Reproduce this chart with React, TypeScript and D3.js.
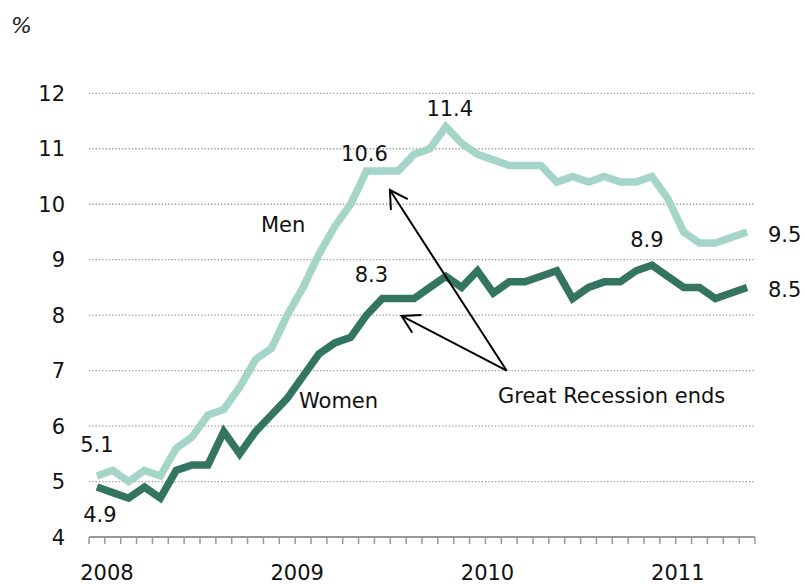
import React, { useEffect } from "react";
import * as d3 from "d3";

const months: string[] = [];
for (let y = 2008; y <= 2011; y++) {
  for (let m = 1; m <= 12; m++) {
    if (y === 2011 && m > 6) break;
    months.push(`${y}-${String(m).padStart(2, "0")}`);
  }
}

const menValues = [
  5.1, 5.2, 5.0, 5.2, 5.1, 5.6, 5.8, 6.2, 6.3, 6.7, 7.2, 7.4,
  8.0, 8.5, 9.1, 9.6, 10.0, 10.6, 10.6, 10.6, 10.9, 11.0, 11.4, 11.1,
  10.9, 10.8, 10.7, 10.7, 10.7, 10.4, 10.5, 10.4, 10.5, 10.4, 10.4, 10.5,
  10.1, 9.5, 9.3, 9.3, 9.4, 9.5,
];

const womenValues = [
  4.9, 4.8, 4.7, 4.9, 4.7, 5.2, 5.3, 5.3, 5.9, 5.5, 5.9, 6.2,
  6.5, 6.9, 7.3, 7.5, 7.6, 8.0, 8.3, 8.3, 8.3, 8.5, 8.7, 8.5,
  8.8, 8.4, 8.6, 8.6, 8.7, 8.8, 8.3, 8.5, 8.6, 8.6, 8.8, 8.9,
  8.7, 8.5, 8.5, 8.3, 8.4, 8.5,
];

const yTicks = [4, 5, 6, 7, 8, 9, 10, 11, 12];
const yearLabels = ["2008", "2009", "2010", "2011"];

const W = 805;
const H = 584;
const FONT = "Verdana, 'DejaVu Sans', sans-serif";
const MEN_COLOR = "#a4d5c8";
const WOMEN_COLOR = "#347562";

export default function App() {
  useEffect(() => {
    document.body.style.margin = "0";
    document.body.style.overflow = "hidden";
  }, []);

  const x = d3.scaleBand<string>().domain(months).range([89, 755]).padding(0);
  const y = d3.scaleLinear().domain([4, 12]).range([537, 93.3]);
  const cx = (i: number) => (x(months[i]) as number) + x.bandwidth() / 2;

  const line = d3
    .line<number>()
    .x((_, i) => cx(i))
    .y((d) => y(d));

  const tickXs = months.map((m) => x(m) as number).concat([755]);

  const lastI = months.length - 1;
  const men = (i: number) => menValues[i];
  const women = (i: number) => womenValues[i];
  const mPeak = menValues.indexOf(d3.max(menValues) as number);
  const wPeak = womenValues.lastIndexOf(d3.max(womenValues) as number);
  const m106 = menValues.indexOf(10.6);
  const w83 = womenValues.indexOf(8.3);

  const fs = 21;

  // arrows
  const tail: [number, number] = [506.7, 370.7];
  const tips: [number, number][] = [
    [cx(m106) + 23.4, y(men(m106)) + 19.1],
    [cx(w83) + 19.2, y(8.0) + 0.8],
  ];
  const head = (tip: [number, number]) => {
    const ang = Math.atan2(tail[1] - tip[1], tail[0] - tip[0]);
    const L = 20;
    const a = (30 * Math.PI) / 180;
    const p1 = [tip[0] + L * Math.cos(ang - a), tip[1] + L * Math.sin(ang - a)];
    const p2 = [tip[0] + L * Math.cos(ang + a), tip[1] + L * Math.sin(ang + a)];
    return `M${p1[0]},${p1[1]}L${tip[0]},${tip[1]}L${p2[0]},${p2[1]}`;
  };

  return (
    <svg
      width={W}
      height={H}
      style={{ display: "block", position: "absolute", left: 0, top: 0, background: "#fff" }}
      fontFamily={FONT}
    >
      <text x={11} y={33} fontSize={22} fontStyle="italic" fill="#222">
        %
      </text>

      {/* gridlines */}
      {yTicks
        .filter((t) => t > 4)
        .map((t) => (
          <line
            key={t}
            x1={89}
            x2={755}
            y1={y(t)}
            y2={y(t)}
            stroke="#999"
            strokeWidth={1.3}
            strokeDasharray="1.3,2"
          />
        ))}

      {/* y tick labels */}
      {yTicks.map((t) => (
        <text key={t} x={65} y={y(t) + 7.5} fontSize={fs} textAnchor="end" fill="#111">
          {t}
        </text>
      ))}

      {/* x axis */}
      <line x1={89} x2={755} y1={537} y2={537} stroke="#999" strokeWidth={2} />
      {tickXs.map((tx, i) => (
        <line key={i} x1={tx} x2={tx} y1={537} y2={544} stroke="#999" strokeWidth={1.5} />
      ))}
      {yearLabels.map((lab, k) => (
        <text key={lab} x={cx(k * 12) + 10} y={580} fontSize={fs} textAnchor="middle" fill="#111">
          {lab}
        </text>
      ))}

      {/* lines */}
      <path d={line(menValues) || ""} fill="none" stroke={MEN_COLOR} strokeWidth={7.5} strokeLinejoin="miter" />
      <path d={line(womenValues) || ""} fill="none" stroke={WOMEN_COLOR} strokeWidth={7.5} strokeLinejoin="miter" />

      {/* value labels */}
      <text x={cx(0)} y={452} fontSize={fs} textAnchor="middle" fill="#111">
        {men(0).toFixed(1)}
      </text>
      <text x={cx(0) + 3} y={522} fontSize={fs} textAnchor="middle" fill="#111">
        {women(0).toFixed(1)}
      </text>
      <text x={cx(m106) - 2} y={160.5} fontSize={fs} textAnchor="middle" fill="#111">
        {men(m106).toFixed(1)}
      </text>
      <text x={cx(mPeak) + 4} y={116} fontSize={fs} textAnchor="middle" fill="#111">
        {men(mPeak).toFixed(1)}
      </text>
      <text x={cx(w83) - 11} y={282} fontSize={fs} textAnchor="middle" fill="#111">
        {women(w83).toFixed(1)}
      </text>
      <text x={cx(wPeak) - 5} y={246.5} fontSize={fs} textAnchor="middle" fill="#111">
        {women(wPeak).toFixed(1)}
      </text>
      <text x={768} y={241.5} fontSize={fs} fill="#111">
        {men(lastI).toFixed(1)}
      </text>
      <text x={768} y={296.5} fontSize={fs} fill="#111">
        {women(lastI).toFixed(1)}
      </text>

      {/* series labels */}
      <text x={261} y={232} fontSize={fs} fill="#111">
        Men
      </text>
      <text x={299} y={408} fontSize={fs} fill="#111">
        Women
      </text>

      {/* annotation */}
      {tips.map((tp, i) => (
        <g key={i} stroke="#000" strokeWidth={2} fill="none">
          <line x1={tail[0]} y1={tail[1]} x2={tp[0]} y2={tp[1]} />
          <path d={head(tp)} />
        </g>
      ))}
      <text x={498} y={403} fontSize={fs} fill="#111">
        Great Recession ends
      </text>
    </svg>
  );
}
